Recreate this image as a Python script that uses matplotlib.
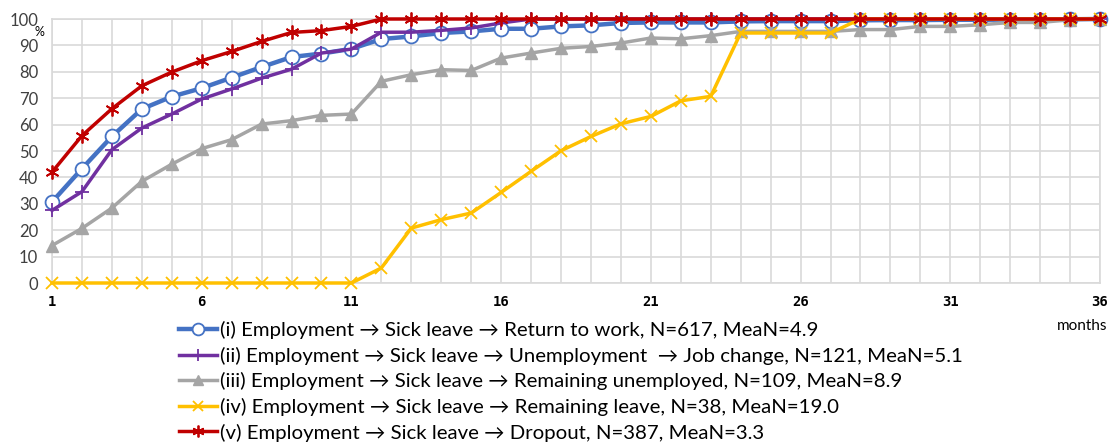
import numpy as np
import matplotlib
matplotlib.use("Agg")
import matplotlib.pyplot as plt

plt.rcParams['font.family'] = ['Lato', 'DejaVu Sans']

months = np.arange(1, 37)

# cumulative share (%) per month
return_to_work = [30.7, 43.3, 55.5, 65.9, 70.6, 73.8, 77.8, 81.8, 85.6, 86.9, 88.7, 92.4,
                  93.4, 94.7, 95.3, 96.3, 96.3, 97.2, 97.6, 98.5, 98.7, 98.7, 98.7, 99.1,
                  99.2, 99.2, 99.2, 99.5, 99.6, 99.6, 99.7, 99.7, 99.8, 99.8, 99.9, 100]
job_change = [27.5, 34.6, 50.5, 58.7, 64.0, 69.7, 73.5, 77.6, 81.0, 87.1, 88.6, 95.0,
              95.0, 95.7, 96.6, 98.5, 100, 100, 100, 100, 100, 100, 100, 100,
              100, 100, 100, 100, 100, 100, 100, 100, 100, 100, 100, 100]
remaining_unemployed = [14.2, 20.7, 28.4, 38.5, 45.0, 50.9, 54.3, 60.2, 61.5, 63.5, 64.0, 76.4,
                        78.9, 80.8, 80.5, 85.2, 87.1, 88.9, 89.6, 90.9, 92.8, 92.5, 93.7, 95.3,
                        95.3, 95.3, 95.3, 96.0, 96.0, 97.2, 97.2, 97.8, 98.7, 98.7, 99.7, 100]
remaining_leave = [0, 0, 0, 0, 0, 0, 0, 0, 0, 0, 0, 5.7,
                   20.8, 24.0, 26.5, 34.3, 42.3, 50.1, 55.5, 60.3, 63.1, 69.0, 70.7, 94.7,
                   94.7, 94.7, 94.7, 100, 100, 100, 100, 100, 100, 100, 100, 100]
dropout = [42.0, 55.8, 66.0, 74.7, 79.9, 84.2, 87.7, 91.5, 94.9, 95.6, 97.2, 100,
           100, 100, 100, 100, 100, 100, 100, 100, 100, 100, 100, 100,
           100, 100, 100, 100, 100, 100, 100, 100, 100, 100, 100, 100]

labels = [
    "(i) Employment \u2192 Sick leave \u2192 Return to work, N=617, MeaN=4.9",
    "(ii) Employment \u2192 Sick leave \u2192 Unemployment  \u2192 Job change, N=121, MeaN=5.1",
    "(iii) Employment \u2192 Sick leave \u2192 Remaining unemployed, N=109, MeaN=8.9",
    "(iv) Employment \u2192 Sick leave \u2192 Remaining leave, N=38, MeaN=19.0",
    "(v) Employment \u2192 Sick leave \u2192 Dropout, N=387, MeaN=3.3",
]

fig = plt.figure(figsize=(11.13, 4.43), dpi=100)
ax = fig.add_axes([52 / 1113, 1 - 283 / 443, 1048 / 1113, 264 / 443])

ax.plot(months, return_to_work, color='#4472C4', lw=3.2, marker='o', ms=10,
        mfc='white', mec='#4472C4', mew=1.3, label=labels[0], clip_on=False, zorder=3)
ax.plot(months, job_change, color='#7030A0', lw=2.5, marker='+', ms=10,
        mew=1.3, label=labels[1], clip_on=False, zorder=4)
ax.plot(months, remaining_unemployed, color='#A5A5A5', lw=2.5, marker='^', ms=9,
        label=labels[2], clip_on=False, zorder=5)
ax.plot(months, remaining_leave, color='#FFC000', lw=2.5, marker='x', ms=9,
        mew=1.3, label=labels[3], clip_on=False, zorder=6)
ax.plot(months, dropout, color='#C00000', lw=2.5, marker=(6, 2, 0), ms=10,
        mew=1.3, label=labels[4], clip_on=False, zorder=7)

ax.set_xlim(1, 36)
ax.set_ylim(0, 100)
ax.set_xticks(np.arange(1, 37, 5))
ax.set_xticks(months, minor=True)
ax.set_yticks(np.arange(0, 101, 10))
ax.set_xticklabels([str(m) for m in range(1, 37, 5)], fontweight='bold', fontsize=10,
                   family='DejaVu Sans Mono')
ax.tick_params(axis='y', labelsize=12, length=0, pad=10, colors='#404040')
ax.tick_params(axis='x', which='both', length=0, pad=9)
ax.grid(True, which='both', color='#D9D9D9', lw=1.2)
ax.set_axisbelow(True)
for s in ax.spines.values():
    s.set_color('#D9D9D9')
    s.set_linewidth(1.2)

ax.text(-0.012, 0.95, '%', transform=ax.transAxes, fontsize=9, ha='center', va='center')
fig.text(1082 / 1113, 1 - 326 / 443, 'months', fontsize=11, ha='center', va='center')

fig.legend(loc='upper left', bbox_to_anchor=(179 / 1113, 1 - 321 / 443), frameon=False,
           fontsize=14.7, handlelength=1.85, handletextpad=0.15, labelspacing=0.37,
           borderpad=0, borderaxespad=0, markerscale=0.85)

fig.savefig('out.png', dpi=100)
